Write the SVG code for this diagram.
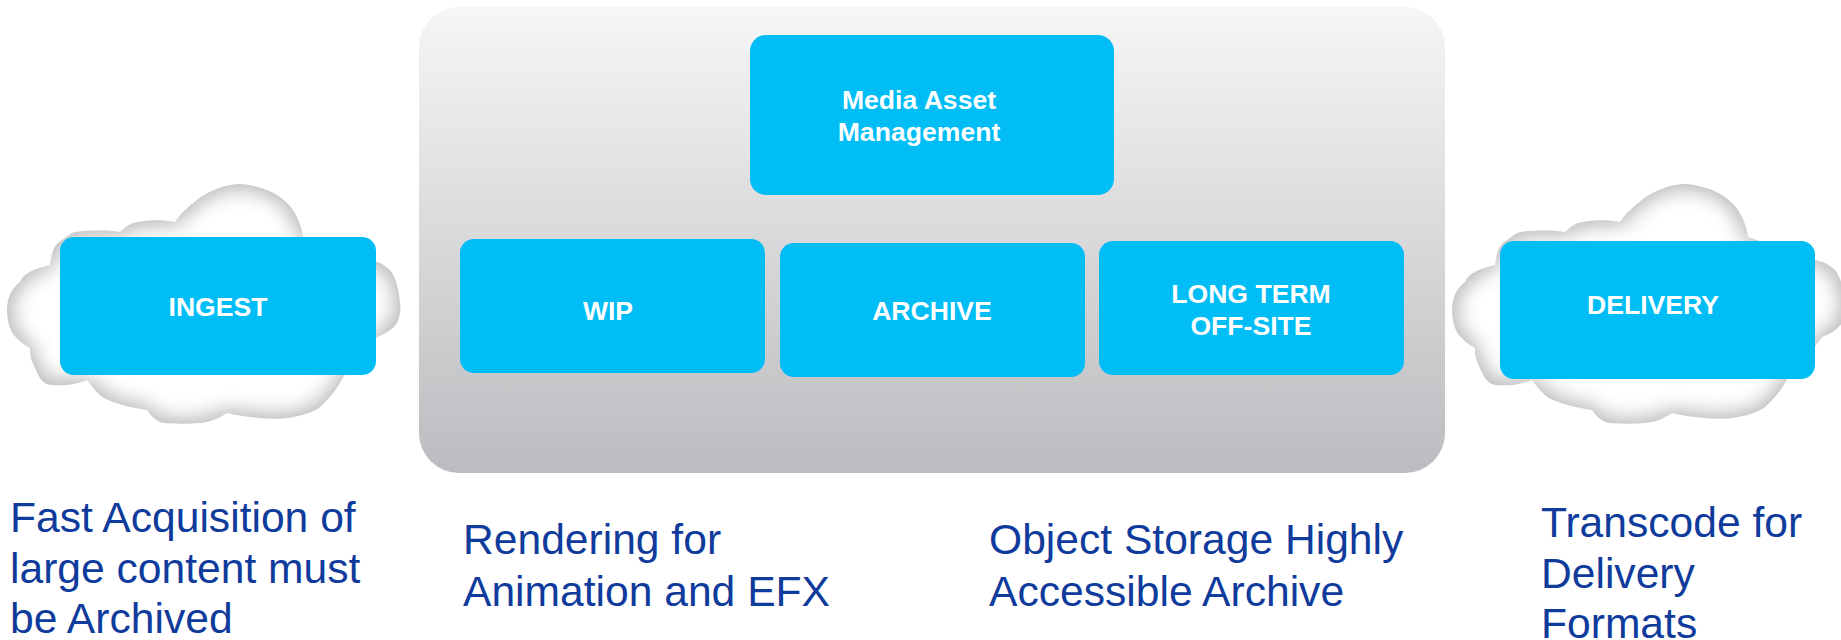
<svg xmlns="http://www.w3.org/2000/svg" width="1841" height="640" viewBox="0 0 1841 640">
<defs>
<linearGradient id="panelGrad" x1="0" y1="0" x2="0" y2="1"><stop offset="0" stop-color="#f6f6f6"/><stop offset="1" stop-color="#bbbcbf"/></linearGradient>
<filter id="inner" x="-5%" y="-5%" width="110%" height="110%" color-interpolation-filters="sRGB">
<feGaussianBlur in="SourceAlpha" stdDeviation="11" result="b"/>
<feComposite in="SourceAlpha" in2="b" operator="out" result="edge"/>
<feFlood flood-color="#bcbebf"/>
<feComposite in2="edge" operator="in" result="shade"/>
<feMerge><feMergeNode in="SourceGraphic"/><feMergeNode in="shade"/><feMergeNode in="shade"/></feMerge>
</filter>
<path id="cloud" d="M62 70C52 76 52 85 50 95C38 98 24 102 20 112C10 120 7 130 7 142C8 152 9 158 14 165C20 172 25 175 30 178C30 188 32 192 36 200C40 210 45 215 52 215C65 216 78 214 87 210C93 218 98 224 104 228C118 235 135 238 147 240C152 247 157 252 165 253C178 254 195 254 207 252C215 250 222 246 227 243C245 247 270 250 287 248C300 246 312 243 320 237C330 228 338 218 343 207L360 190L377 167C385 164 392 160 397 153C400 146 401 140 400 133C399 120 396 108 390 100C385 96 381 93 377 92L340 80L303 67C302 58 298 48 293 40C288 33 283 29 277 25C265 18 250 14 238 14C222 15 207 22 197 30C188 37 180 44 175 52C160 49 145 50 133 53C128 55 124 58 120 62C105 60 85 60 72 63Z"/>
<style>
.box{fill:#00bdf6}
.lbl{font-family:"Liberation Sans",Arial,sans-serif;font-weight:700;font-size:26.6px;fill:#fff;text-anchor:middle}
.cap{font-family:"Liberation Sans",Arial,sans-serif;font-size:42.6px;fill:#0f3b9c}
.cl{fill:#fff;filter:url(#inner)}
</style>
</defs>
<rect width="1841" height="640" fill="#fff"/>
<g id="connectors"/>
<g id="panel"><rect x="419" y="7" width="1026" height="466" rx="40" ry="40" fill="url(#panelGrad)"/></g>
<g id="ingest"><use href="#cloud" class="cl" x="0" y="170"/><rect class="box" x="60" y="237" width="316" height="138" rx="14"/><text class="lbl" x="218" y="316">INGEST</text></g>
<g id="delivery"><use href="#cloud" class="cl" x="1445" y="170"/><rect class="box" x="1500" y="241" width="315" height="138" rx="14"/><text class="lbl" x="1653" y="314">DELIVERY</text></g>
<g id="mam"><rect class="box" x="750" y="35" width="364" height="160" rx="16"/><text class="lbl" x="919" y="109">Media Asset</text><text class="lbl" x="919" y="141">Management</text></g>
<g id="wip"><rect class="box" x="460" y="239" width="305" height="134" rx="14"/><text class="lbl" x="608" y="320">WIP</text></g>
<g id="archive"><rect class="box" x="780" y="243" width="305" height="134" rx="14"/><text class="lbl" x="932" y="320">ARCHIVE</text></g>
<g id="longterm"><rect class="box" x="1099" y="241" width="305" height="134" rx="14"/><text class="lbl" x="1251" y="303">LONG TERM</text><text class="lbl" x="1251" y="335">OFF-SITE</text></g>
<g id="captions">
<text class="cap" x="10" y="532">Fast Acquisition of</text><text class="cap" x="10" y="583">large content must</text><text class="cap" x="10" y="633">be Archived</text>
<text class="cap" x="463" y="554">Rendering for</text><text class="cap" x="463" y="606">Animation and EFX</text>
<text class="cap" x="989" y="554">Object Storage Highly</text><text class="cap" x="989" y="606">Accessible Archive</text>
<text class="cap" x="1541" y="537">Transcode for</text><text class="cap" x="1541" y="588">Delivery</text><text class="cap" x="1541" y="638">Formats</text>
</g>
</svg>
